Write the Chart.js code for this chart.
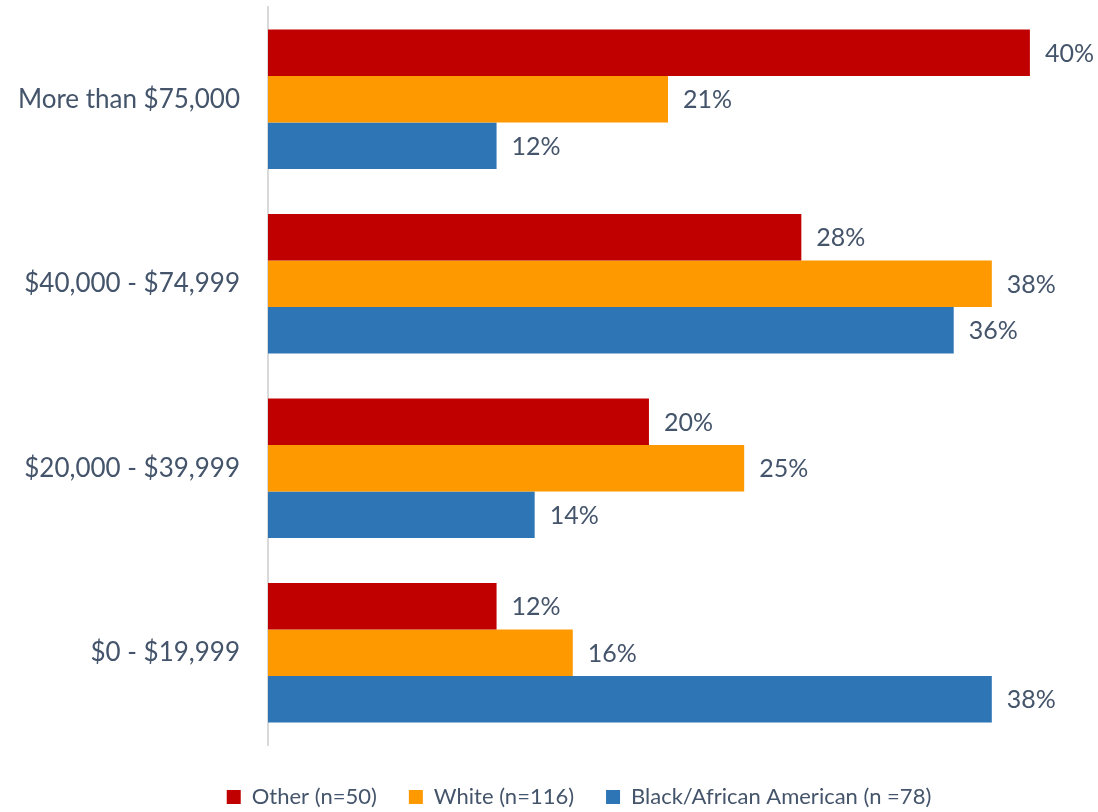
<!DOCTYPE html>
<html>
<head>
<meta charset="utf-8">
<script src="https://cdn.jsdelivr.net/npm/chart.js@4/dist/chart.umd.min.js"></script>
<style>
  html, body { margin: 0; padding: 0; background: #fff; }
  #wrap { width: 1098px; height: 812px; }
</style>
</head>
<body>
<div id="wrap"><canvas id="incomeChart" width="1098" height="812"></canvas></div>
<script>
// Income brackets, top to bottom
const incomeGroups = ['More than $75,000', '$40,000 - $74,999', '$20,000 - $39,999', '$0 - $19,999'];

// Share of respondents in each bracket (%)
const otherShare = [40, 28, 20, 12];
const whiteShare = [21, 38, 25, 16];
const blackShare = [12, 36, 14, 38];

const seriesNames = ['Other (n=50)', 'White (n=116)', 'Black/African American (n =78)'];
const seriesColors = ['#C00000', '#FF9900', '#2E75B6'];
const textColor = '#44546A';

Chart.defaults.font.family = 'Lato, "Noto Sans", sans-serif';

// writes the percent just past the end of each bar
const valueLabels = {
    id: 'valueLabels',
    afterDatasetsDraw(chart) {
        const ctx = chart.ctx;
        ctx.save();
        ctx.font = '25px Lato, "Noto Sans", sans-serif';
        ctx.fillStyle = textColor;
        ctx.textAlign = 'left';
        ctx.textBaseline = 'middle';
        chart.data.datasets.forEach((ds, i) => {
            chart.getDatasetMeta(i).data.forEach((bar, j) => {
                ctx.fillText(ds.data[j] + '%', bar.x + 15, bar.y + 1);
            });
        });
        ctx.restore();
    }
};

// legend sits a little right of the canvas centre
const legendShift = {
    id: 'legendShift',
    afterLayout(chart) {
        chart.legend.left += 45;
        chart.legend.right += 45;
    }
};

const datasets = [otherShare, whiteShare, blackShare].map((values, i) => ({
    label: seriesNames[i],
    data: values,
    backgroundColor: seriesColors[i],
    borderWidth: 0,
    barPercentage: 1,
    categoryPercentage: 0.755
}));

new Chart(document.getElementById('incomeChart'), {
    type: 'bar',
    data: { labels: incomeGroups, datasets: datasets },
    plugins: [valueLabels, legendShift],
    options: {
        indexAxis: 'y',
        responsive: false,
        animation: false,
        layout: { padding: { top: 7, right: 30, bottom: -6, left: 0 } },
        scales: {
            x: {
                min: 0,
                max: 42,
                grid: { display: false },
                border: { display: false },
                ticks: { display: false },
                afterFit(scale) { scale.height = 9; }
            },
            y: {
                grid: { display: false, drawTicks: false },
                border: { display: true, color: '#D9D9D9', width: 2 },
                ticks: {
                    color: textColor,
                    padding: 28,
                    font: { size: 26 }
                },
                afterFit(scale) {
                    scale.width = 268;
                    // keep the tick padding from pushing the plot down
                    scale.paddingTop = 0;
                    scale.paddingBottom = 0;
                }
            }
        },
        plugins: {
            legend: {
                position: 'bottom',
                labels: {
                    color: textColor,
                    boxWidth: 14,
                    boxHeight: 14,
                    padding: 32,
                    font: { size: 22 }
                }
            },
            tooltip: { enabled: false }
        }
    }
});
</script>
</body>
</html>
